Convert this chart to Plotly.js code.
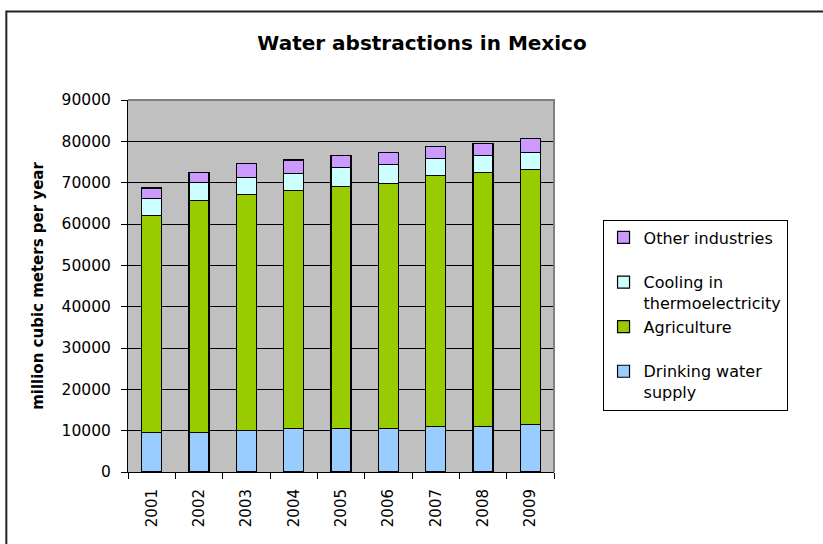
<!DOCTYPE html>
<html>
<head>
<meta charset="utf-8">
<script src="https://cdn.plot.ly/plotly-3.0.1.min.js"></script>
<style>
  html, body { margin: 0; padding: 0; background: #fff; }
  #chart { width: 823px; height: 544px; }
</style>
</head>
<body>
<div id="chart"></div>
<script>
// Annual water abstractions in Mexico, million m³ per year, by use
const years = ['2001', '2002', '2003', '2004', '2005', '2006', '2007', '2008', '2009'];
const drinkingWater = [9600, 9600, 10100, 10600, 10600, 10600, 11000, 11000, 11400];
const agriculture = [52500, 56000, 57100, 57500, 58500, 59200, 60700, 61500, 61800];
const cooling = [4000, 4400, 4100, 4100, 4500, 4500, 4100, 4100, 4100];
const otherIndustries = [2600, 2500, 3400, 3300, 3000, 3000, 3000, 2900, 3300];

const seriesNames = ['Drinking water<br>supply', 'Agriculture<br> ', 'Cooling in<br>thermoelectricity', 'Other industries<br> '];
const seriesColors = ['#99CCFF', '#99CC00', '#CCFFFF', '#CC99FF'];
const seriesValues = [drinkingWater, agriculture, cooling, otherIndustries];

const FONT = 'DejaVu Sans, Arial, sans-serif';

const traces = seriesValues.map((vals, i) => ({
  type: 'bar',
  name: seriesNames[i],
  x: years,
  y: vals,
  marker: { color: seriesColors[i], line: { color: '#000000', width: 1.2 } },
  hoverinfo: 'x+y+name'
}));

// plot-area geometry in pixels, used to place paper-referenced decorations
const W = 823, H = 544;
const L = 127.5, R = 554, T = 99.5, B = 472.3;
const px = v => (v - L) / (R - L);
const py = v => (B - v) / (B - T);

const layout = {
  width: W,
  height: H,
  margin: { l: L, r: W - R, t: T, b: H - B, pad: 0 },
  paper_bgcolor: '#ffffff',
  plot_bgcolor: '#C0C0C0',
  barmode: 'stack',
  bargap: 0.58,
  font: { family: FONT, size: 15, color: '#000000' },
  title: {
    text: 'Water abstractions in Mexico',
    font: { family: FONT, size: 20, weight: 'bold', color: '#000000' },
    x: 422 / W, xref: 'container', xanchor: 'center',
    y: 1 - 43 / H, yref: 'container', yanchor: 'middle'
  },
  xaxis: {
    type: 'category',
    showline: true, linecolor: '#000000', linewidth: 1,
    ticks: 'outside', tickson: 'boundaries', ticklen: 6, tickcolor: '#000000', tickwidth: 1,
    tickangle: -90,
    tickfont: { family: FONT, size: 15, color: '#000000' },
    ticklabelstandoff: 10,
    showgrid: false,
    zeroline: false
  },
  yaxis: {
    range: [0, 90000],
    dtick: 10000,
    tick0: 0,
    tickformat: 'd',
    showline: true, linecolor: '#000000', linewidth: 1,
    ticks: 'outside', ticklen: 6, tickcolor: '#000000', tickwidth: 1,
    tickfont: { family: FONT, size: 15.5, color: '#000000' },
    ticklabelstandoff: 7,
    showgrid: true, gridcolor: '#000000', gridwidth: 1,
    zeroline: false,
    title: {
      text: 'million cubic meters per year',
      font: { family: FONT, size: 15, weight: 'bold', color: '#000000' },
      standoff: 14
    }
  },
  legend: {
    x: px(602.6), y: py(219.3),
    xanchor: 'left', yanchor: 'top',
    traceorder: 'reversed',
    valign: 'top',
    bgcolor: '#ffffff',
    bordercolor: '#000000',
    borderwidth: 1,
    font: { family: FONT, size: 16, color: '#000000' }
  },
  shapes: [
    // plot-area frame on the top and right sides
    {
      type: 'path', xref: 'paper', yref: 'paper',
      path: 'M 0,1 L 1,1 L 1,0',
      line: { color: '#808080', width: 2 },
      layer: 'above'
    },
    // outer chart frame
    {
      type: 'rect', xref: 'paper', yref: 'paper',
      x0: px(5.7), x1: px(840), y0: py(560), y1: py(10.7),
      line: { color: '#222222', width: 2 },
      fillcolor: 'rgba(0,0,0,0)',
      layer: 'above'
    }
  ],
  showlegend: true
};

Plotly.newPlot('chart', traces, layout, { displayModeBar: false, staticPlot: true });
</script>
</body>
</html>
